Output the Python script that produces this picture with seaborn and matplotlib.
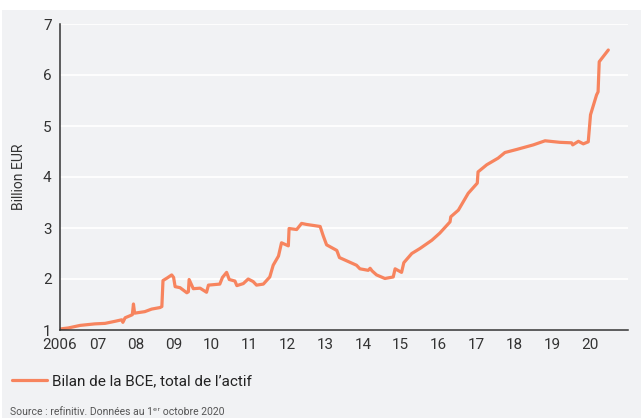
import pandas as pd
import seaborn as sns
import matplotlib.pyplot as plt
from matplotlib.patches import Rectangle

# ECB balance sheet, total assets (billion EUR)
years = [2006.00, 2006.22, 2006.53, 2006.92, 2007.19, 2007.45, 2007.63, 2007.66,
         2007.72, 2007.85, 2007.91, 2007.94, 2007.97, 2008.24, 2008.42, 2008.64,
         2008.69, 2008.72, 2008.83, 2008.95, 2009.00, 2009.04, 2009.17, 2009.35,
         2009.39, 2009.41, 2009.52, 2009.70, 2009.87, 2009.92, 2010.22, 2010.29,
         2010.40, 2010.47, 2010.62, 2010.67, 2010.84, 2010.97, 2011.10, 2011.19,
         2011.37, 2011.54, 2011.63, 2011.77, 2011.85, 2011.94, 2012.03, 2012.05,
         2012.25, 2012.38, 2012.51, 2012.87, 2012.95, 2013.04, 2013.31, 2013.38,
         2013.83, 2013.92, 2014.14, 2014.19, 2014.24, 2014.36, 2014.58, 2014.80,
         2014.85, 2015.02, 2015.08, 2015.29, 2015.51, 2015.82, 2016.03, 2016.30,
         2016.32, 2016.52, 2016.78, 2017.02, 2017.04, 2017.27, 2017.57, 2017.75,
         2018.06, 2018.50, 2018.81, 2019.20, 2019.51, 2019.54, 2019.69, 2019.82,
         2019.95, 2020.01, 2020.17, 2020.21, 2020.24, 2020.48]
values = [1.02, 1.04, 1.09, 1.12, 1.13, 1.17, 1.20, 1.15,
          1.24, 1.28, 1.30, 1.51, 1.33, 1.36, 1.41, 1.44,
          1.46, 1.97, 2.02, 2.08, 2.03, 1.85, 1.83, 1.73,
          1.75, 1.99, 1.81, 1.82, 1.74, 1.88, 1.90, 2.03,
          2.13, 1.99, 1.96, 1.87, 1.91, 2.00, 1.95, 1.88,
          1.90, 2.04, 2.27, 2.45, 2.71, 2.68, 2.65, 2.99,
          2.97, 3.09, 3.07, 3.03, 2.85, 2.67, 2.56, 2.42,
          2.27, 2.20, 2.17, 2.21, 2.16, 2.08, 2.01, 2.04,
          2.20, 2.13, 2.32, 2.50, 2.60, 2.76, 2.90, 3.12,
          3.22, 3.35, 3.68, 3.88, 4.10, 4.24, 4.37, 4.48,
          4.54, 4.63, 4.71, 4.68, 4.67, 4.63, 4.70, 4.65,
          4.69, 5.22, 5.61, 5.67, 6.26, 6.49]

tick_years = list(range(2006, 2022))
tick_labels = ['2006', '07', '08', '09', '10', '11', '12', '13', '14', '15',
               '16', '17', '18', '19', '20', '']

series_name = "Bilan de la BCE, total de l\u2019actif"
source_text = "Source : refinitiv. Donn\u00e9es au 1\u1d49\u02b3 octobre 2020"

bg = '#f1f2f4'
line_color = '#f7845e'

sns.set_style('white')
plt.rcParams['font.family'] = ['Roboto', 'DejaVu Sans']

df = pd.DataFrame({'year': years, 'value': values, 'serie': series_name})

fig = plt.figure(figsize=(6.41, 4.18), dpi=100, facecolor='white')
fig.patches.append(Rectangle((2 / 641, 0), 1, 1 - 10 / 418, transform=fig.transFigure,
                             facecolor=bg, edgecolor='none', zorder=-10))
ax = fig.add_axes([60 / 641, 88 / 418, 568 / 641, 306 / 418])
ax.set_facecolor(bg)

sns.lineplot(data=df, x='year', y='value', hue='serie', palette=[line_color],
             linewidth=2.3, ax=ax, legend=False)

ax.set_xlim(2006, 2021)
ax.set_ylim(1, 7)
ax.set_xticks(tick_years)
ax.set_xticklabels(tick_labels)
ax.set_yticks(range(1, 8))
ax.yaxis.grid(True, color='white', linewidth=1.3)
ax.set_axisbelow(True)
for side in ['top', 'right']:
    ax.spines[side].set_visible(False)
for side in ['left', 'bottom']:
    ax.spines[side].set_color('#333333')
    ax.spines[side].set_linewidth(1.1)
ax.tick_params(axis='both', direction='out', length=5, width=1.1, color='#333333',
               labelsize=11, labelcolor='#333333', pad=1)
ax.set_xlabel('')
ax.set_ylabel('Billion EUR', fontsize=10, color='#333333', labelpad=12)

ax.plot([], [], color=line_color, linewidth=2.3, label=series_name)
ax.legend(loc='center left', bbox_to_anchor=(12 / 641, 37 / 418), bbox_transform=fig.transFigure,
          frameon=False, fontsize=11, handlelength=2.3, handletextpad=0.35,
          borderpad=0, borderaxespad=0, labelcolor='#222222')

fig.text(10 / 641, 3 / 418, source_text, fontsize=7.5, color='#555555', va='baseline')

fig.savefig('out.png', dpi=100, facecolor='white')
